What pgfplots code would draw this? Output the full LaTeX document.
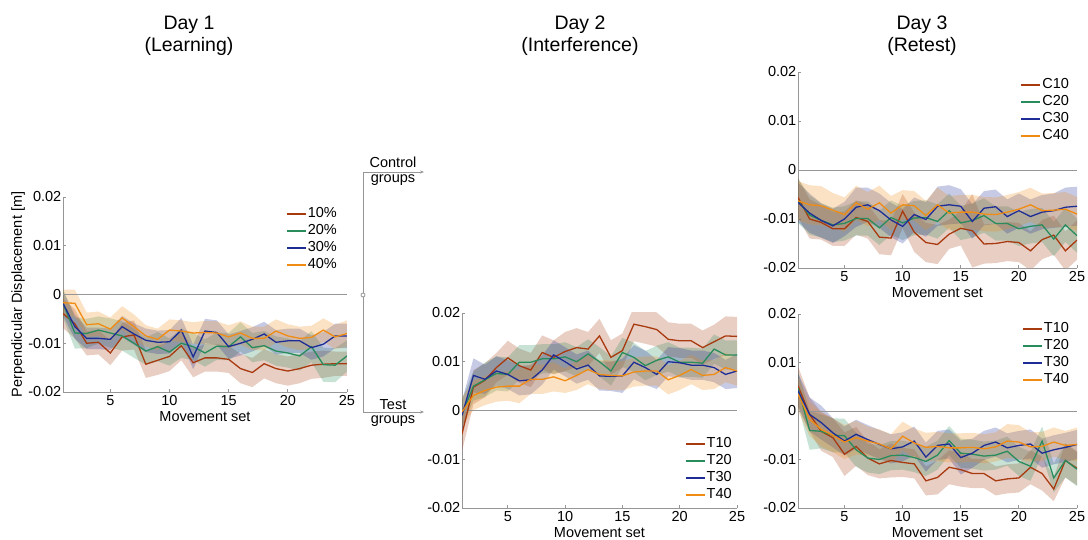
\documentclass[border=0pt]{standalone}
\usepackage{fontspec}
\setmainfont{Liberation Sans}
\usepackage{pgfplots}
\pgfplotsset{compat=1.18}
\usepackage{pgfplotstable}
\usepgfplotslibrary{fillbetween}
\usetikzlibrary{arrows.meta}

\definecolor{cA}{RGB}{168,58,16}
\definecolor{cB}{RGB}{40,140,92}
\definecolor{cC}{RGB}{30,45,150}
\definecolor{cD}{RGB}{240,140,20}
\definecolor{axgray}{RGB}{150,150,150}

\pgfplotstableread{
x a ae b be c ce d de
1 -0.0039 0.0030 -0.0018 0.0030 -0.0018 0.0025 -0.0017 0.0027
2 -0.0060 0.0030 -0.0079 0.0032 -0.0066 0.0025 -0.0018 0.0028
3 -0.0100 0.0025 -0.0080 0.0030 -0.0090 0.0022 -0.0062 0.0025
4 -0.0098 0.0025 -0.0073 0.0028 -0.0090 0.0022 -0.0060 0.0025
5 -0.0120 0.0025 -0.0079 0.0030 -0.0092 0.0022 -0.0071 0.0024
6 -0.0087 0.0028 -0.0085 0.0030 -0.0066 0.0022 -0.0048 0.0024
7 -0.0083 0.0030 -0.0100 0.0030 -0.0081 0.0022 -0.0066 0.0025
8 -0.0143 0.0028 -0.0116 0.0028 -0.0094 0.0024 -0.0085 0.0022
9 -0.0135 0.0030 -0.0107 0.0030 -0.0098 0.0024 -0.0092 0.0022
10 -0.0127 0.0030 -0.0118 0.0028 -0.0097 0.0024 -0.0073 0.0022
11 -0.0105 0.0030 -0.0100 0.0030 -0.0073 0.0025 -0.0075 0.0022
12 -0.0140 0.0030 -0.0107 0.0028 -0.0128 0.0025 -0.0079 0.0022
13 -0.0130 0.0028 -0.0120 0.0028 -0.0075 0.0025 -0.0078 0.0024
14 -0.0130 0.0028 -0.0106 0.0028 -0.0078 0.0025 -0.0079 0.0024
15 -0.0133 0.0028 -0.0107 0.0028 -0.0107 0.0025 -0.0087 0.0024
16 -0.0152 0.0030 -0.0087 0.0030 -0.0100 0.0025 -0.0079 0.0024
17 -0.0160 0.0030 -0.0109 0.0030 -0.0092 0.0025 -0.0090 0.0024
18 -0.0142 0.0030 -0.0105 0.0030 -0.0081 0.0025 -0.0090 0.0024
19 -0.0152 0.0030 -0.0116 0.0030 -0.0098 0.0025 -0.0075 0.0024
20 -0.0157 0.0030 -0.0120 0.0030 -0.0095 0.0025 -0.0085 0.0024
21 -0.0152 0.0030 -0.0126 0.0030 -0.0095 0.0025 -0.0090 0.0024
22 -0.0145 0.0028 -0.0107 0.0032 -0.0109 0.0025 -0.0088 0.0024
23 -0.0143 0.0028 -0.0144 0.0035 -0.0102 0.0025 -0.0073 0.0024
24 -0.0142 0.0025 -0.0145 0.0035 -0.0085 0.0025 -0.0087 0.0025
25 -0.0142 0.0025 -0.0126 0.0032 -0.0085 0.0025 -0.0080 0.0027
}\dayone

\pgfplotstableread{
x a ae b be c ce d de
1 -0.0048 0.0035 -0.0007 0.0030 -0.0010 0.0030 -0.0003 0.0030
2 0.0048 0.0035 0.0050 0.0030 0.0072 0.0035 0.0031 0.0030
3 0.0062 0.0035 0.0063 0.0035 0.0064 0.0030 0.0041 0.0030
4 0.0088 0.0030 0.0076 0.0035 0.0081 0.0030 0.0048 0.0030
5 0.0108 0.0035 0.0074 0.0035 0.0074 0.0030 0.0050 0.0030
6 0.0092 0.0035 0.0099 0.0035 0.0061 0.0030 0.0050 0.0035
7 0.0083 0.0035 0.0099 0.0035 0.0063 0.0030 0.0064 0.0030
8 0.0119 0.0035 0.0106 0.0030 0.0083 0.0030 0.0064 0.0030
9 0.0109 0.0035 0.0106 0.0030 0.0114 0.0030 0.0069 0.0030
10 0.0121 0.0040 0.0110 0.0030 0.0100 0.0030 0.0061 0.0025
11 0.0129 0.0040 0.0100 0.0030 0.0085 0.0030 0.0072 0.0030
12 0.0126 0.0035 0.0116 0.0030 0.0093 0.0030 0.0084 0.0030
13 0.0153 0.0035 0.0100 0.0030 0.0071 0.0030 0.0074 0.0030
14 0.0109 0.0035 0.0081 0.0030 0.0070 0.0030 0.0072 0.0030
15 0.0123 0.0035 0.0119 0.0030 0.0071 0.0035 0.0071 0.0030
16 0.0177 0.0035 0.0109 0.0030 0.0099 0.0035 0.0079 0.0030
17 0.0172 0.0035 0.0092 0.0030 0.0088 0.0035 0.0081 0.0030
18 0.0166 0.0035 0.0103 0.0030 0.0074 0.0030 0.0081 0.0030
19 0.0146 0.0035 0.0110 0.0030 0.0100 0.0030 0.0063 0.0030
20 0.0143 0.0035 0.0099 0.0030 0.0098 0.0030 0.0072 0.0030
21 0.0143 0.0035 0.0099 0.0030 0.0093 0.0030 0.0084 0.0030
22 0.0129 0.0035 0.0097 0.0030 0.0093 0.0030 0.0072 0.0030
23 0.0141 0.0035 0.0126 0.0030 0.0088 0.0030 0.0074 0.0030
24 0.0153 0.0040 0.0114 0.0030 0.0074 0.0030 0.0088 0.0030
25 0.0152 0.0040 0.0114 0.0030 0.0081 0.0035 0.0081 0.0030
}\daytwo

\pgfplotstableread{
x a ae b be c ce d de
1 -0.0056 0.0040 -0.0063 0.0045 -0.0066 0.0040 -0.0063 0.0040
2 -0.0100 0.0040 -0.0092 0.0040 -0.0088 0.0040 -0.0071 0.0040
3 -0.0107 0.0035 -0.0103 0.0035 -0.0103 0.0035 -0.0073 0.0040
4 -0.0120 0.0035 -0.0112 0.0035 -0.0114 0.0035 -0.0082 0.0035
5 -0.0120 0.0035 -0.0109 0.0035 -0.0100 0.0035 -0.0091 0.0035
6 -0.0097 0.0035 -0.0099 0.0035 -0.0076 0.0040 -0.0067 0.0035
7 -0.0105 0.0035 -0.0099 0.0035 -0.0071 0.0035 -0.0080 0.0035
8 -0.0137 0.0035 -0.0118 0.0035 -0.0083 0.0035 -0.0067 0.0035
9 -0.0139 0.0035 -0.0097 0.0035 -0.0102 0.0035 -0.0088 0.0035
10 -0.0084 0.0035 -0.0108 0.0035 -0.0115 0.0035 -0.0071 0.0030
11 -0.0127 0.0040 -0.0098 0.0035 -0.0091 0.0035 -0.0073 0.0030
12 -0.0148 0.0040 -0.0097 0.0035 -0.0101 0.0035 -0.0093 0.0030
13 -0.0152 0.0040 -0.0105 0.0035 -0.0074 0.0040 -0.0071 0.0035
14 -0.0131 0.0030 -0.0083 0.0035 -0.0071 0.0040 -0.0088 0.0035
15 -0.0119 0.0035 -0.0108 0.0035 -0.0074 0.0035 -0.0086 0.0035
16 -0.0124 0.0075 -0.0103 0.0035 -0.0105 0.0035 -0.0086 0.0035
17 -0.0151 0.0040 -0.0093 0.0035 -0.0078 0.0035 -0.0090 0.0035
18 -0.0150 0.0040 -0.0109 0.0035 -0.0075 0.0035 -0.0091 0.0035
19 -0.0146 0.0040 -0.0109 0.0035 -0.0095 0.0035 -0.0086 0.0035
20 -0.0148 0.0040 -0.0120 0.0035 -0.0083 0.0035 -0.0080 0.0035
21 -0.0165 0.0040 -0.0115 0.0035 -0.0095 0.0035 -0.0071 0.0035
22 -0.0142 0.0040 -0.0112 0.0035 -0.0086 0.0035 -0.0083 0.0035
23 -0.0133 0.0040 -0.0141 0.0035 -0.0083 0.0035 -0.0082 0.0035
24 -0.0165 0.0040 -0.0112 0.0035 -0.0076 0.0040 -0.0080 0.0035
25 -0.0143 0.0040 -0.0134 0.0035 -0.0074 0.0040 -0.0090 0.0035
}\daythreeC

\pgfplotstableread{
x a ae b be c ce d de
1 0.0052 0.0040 0.0047 0.0035 0.0042 0.0035 0.0035 0.0035
2 -0.0007 0.0035 -0.0040 0.0040 -0.0007 0.0035 -0.0017 0.0035
3 -0.0042 0.0040 -0.0042 0.0035 -0.0024 0.0035 -0.0038 0.0035
4 -0.0055 0.0040 -0.0050 0.0035 -0.0045 0.0030 -0.0050 0.0035
5 -0.0089 0.0045 -0.0051 0.0035 -0.0062 0.0030 -0.0064 0.0035
6 -0.0073 0.0040 -0.0080 0.0035 -0.0048 0.0030 -0.0055 0.0035
7 -0.0097 0.0035 -0.0097 0.0030 -0.0059 0.0030 -0.0062 0.0030
8 -0.0109 0.0030 -0.0100 0.0030 -0.0069 0.0030 -0.0068 0.0030
9 -0.0102 0.0035 -0.0092 0.0030 -0.0078 0.0030 -0.0078 0.0030
10 -0.0106 0.0030 -0.0091 0.0030 -0.0074 0.0030 -0.0052 0.0030
11 -0.0109 0.0030 -0.0096 0.0030 -0.0062 0.0030 -0.0066 0.0030
12 -0.0144 0.0030 -0.0104 0.0030 -0.0095 0.0030 -0.0075 0.0030
13 -0.0137 0.0035 -0.0091 0.0030 -0.0071 0.0030 -0.0073 0.0030
14 -0.0116 0.0035 -0.0061 0.0030 -0.0068 0.0030 -0.0076 0.0030
15 -0.0121 0.0035 -0.0087 0.0030 -0.0096 0.0035 -0.0076 0.0030
16 -0.0129 0.0030 -0.0089 0.0030 -0.0087 0.0030 -0.0075 0.0030
17 -0.0129 0.0030 -0.0093 0.0030 -0.0071 0.0030 -0.0078 0.0030
18 -0.0144 0.0030 -0.0091 0.0030 -0.0064 0.0030 -0.0074 0.0030
19 -0.0140 0.0030 -0.0083 0.0030 -0.0076 0.0030 -0.0062 0.0035
20 -0.0138 0.0030 -0.0104 0.0030 -0.0071 0.0030 -0.0064 0.0035
21 -0.0116 0.0035 -0.0114 0.0030 -0.0068 0.0030 -0.0074 0.0030
22 -0.0129 0.0035 -0.0062 0.0030 -0.0087 0.0030 -0.0073 0.0030
23 -0.0161 0.0025 -0.0138 0.0030 -0.0080 0.0030 -0.0064 0.0030
24 -0.0102 0.0035 -0.0102 0.0035 -0.0075 0.0030 -0.0071 0.0030
25 -0.0118 0.0035 -0.0120 0.0035 -0.0069 0.0030 -0.0069 0.0035
}\daythreeT

\newcommand{\fs}{\fontsize{14.5}{17}\selectfont}

\newcommand{\band}[4]{%
  \addplot[draw=none, forget plot, name path=u#2] table[x=x, y expr=\thisrow{#2}+\thisrow{#3}] {#1};
  \addplot[draw=none, forget plot, name path=l#2] table[x=x, y expr=\thisrow{#2}-\thisrow{#3}] {#1};
  \addplot[fill=#4, fill opacity=0.25, draw=none, forget plot] fill between[of=u#2 and l#2];
}
\newcommand{\panel}[1]{%
  \addplot[axgray, line width=0.8pt, forget plot] coordinates {(1,0) (25,0)};
  \band{#1}{a}{ae}{cA}
  \band{#1}{b}{be}{cB}
  \band{#1}{c}{ce}{cC}
  \band{#1}{d}{de}{cD}
  \addplot[cA] table[x=x, y=a] {#1};
  \addplot[cB] table[x=x, y=b] {#1};
  \addplot[cC] table[x=x, y=c] {#1};
  \addplot[cD] table[x=x, y=d] {#1};
}

\pgfplotsset{
  legend image code/.code={\draw[#1, line width=1.8pt, opacity=1] (0pt,0pt) -- (19pt,0pt);},
  panel/.style={
    scale only axis, anchor=south west,
    xmin=1, xmax=25, ymin=-0.02, ymax=0.02,
    axis x line*=bottom, axis y line*=left,
    axis line style={axgray, line width=0.8pt, -},
    xtick={5,10,15,20,25},
    ytick={-0.02,-0.01,0,0.01,0.02},
    yticklabels={-0.02,-0.01,0,0.01,0.02},
    scaled y ticks=false, scaled x ticks=false,
    tick style={axgray, line width=0.8pt}, tick align=inside, major tick length=3pt,
    /pgf/number format/assume math mode=true,
    ticklabel style={font=\fs, text=black},
    yticklabel style={inner sep=1.5pt},
    xticklabel style={inner sep=3pt},
    xlabel={Movement set},
    xlabel style={font=\fs, at={(axis description cs:0.5,0)}, anchor=base, yshift=-30pt},
    legend style={draw=none, fill=none, font=\fs, row sep=1.5pt,
      nodes={inner sep=1pt, text height=10.5pt, text depth=3pt}},
    legend cell align=left,
    every axis plot/.append style={line width=1.3pt},
  }
}

\begin{document}
\begin{tikzpicture}

% Day 1
\begin{axis}[panel, at={(63pt,148pt)}, width=284pt, height=195pt,
  ylabel={Perpendicular Displacement [m]},
  ylabel style={font=\fs, at={(axis description cs:-0.158,0.5)}, anchor=center},
  legend style={at={(0.979,0.964)}, anchor=north east}]
\panel{\dayone}
\legend{10\%,20\%,30\%,40\%}
\end{axis}

% Day 2
\begin{axis}[panel, at={(462pt,32pt)}, width=275pt, height=195pt,
  legend style={at={(0.996,0.015)}, anchor=south east}]
\panel{\daytwo}
\legend{T10,T20,T30,T40}
\end{axis}

% Day 3 top
\begin{axis}[panel, at={(798pt,272pt)}, width=279pt, height=196pt,
  legend style={at={(0.986,0.985)}, anchor=north east}]
\panel{\daythreeC}
\legend{C10,C20,C30,C40}
\end{axis}

% Day 3 bottom
\begin{axis}[panel, at={(798pt,32pt)}, width=279pt, height=194pt,
  legend style={at={(0.986,0.975)}, anchor=north east}]
\panel{\daythreeT}
\legend{T10,T20,T30,T40}
\end{axis}

\begin{scope}[x=1pt, y=1pt]
% titles
\begin{scope}[every node/.style={font=\fontsize{19.5}{22}\selectfont, anchor=base}]
\node at (189,510) {Day 1};
\node at (189,488) {(Learning)};
\node at (580,510) {Day 2};
\node at (580,488) {(Interference)};
\node at (922,510) {Day 3};
\node at (922,488) {(Retest)};
\end{scope}

% group diagram
\draw[axgray, line width=0.8pt] (363,368) -- (363,128);
\draw[axgray, line width=0.8pt, -{Stealth[length=4pt,width=3pt]}] (363,368) -- (424,368);
\draw[axgray, line width=0.8pt, -{Stealth[length=4pt,width=3pt]}] (363,128) -- (424,128);
\draw[axgray, line width=0.8pt, fill=white] (363,245) circle (2pt);
\begin{scope}[every node/.style={font=\fs, anchor=base}]
\node at (393,372) {Control};
\node at (393,357) {groups};
\node at (393,130) {Test};
\node at (393,116) {groups};
\end{scope}

\pgfresetboundingbox
\path[use as bounding box] (0,0) rectangle (1088,540);
\end{scope}
\end{tikzpicture}
\end{document}
